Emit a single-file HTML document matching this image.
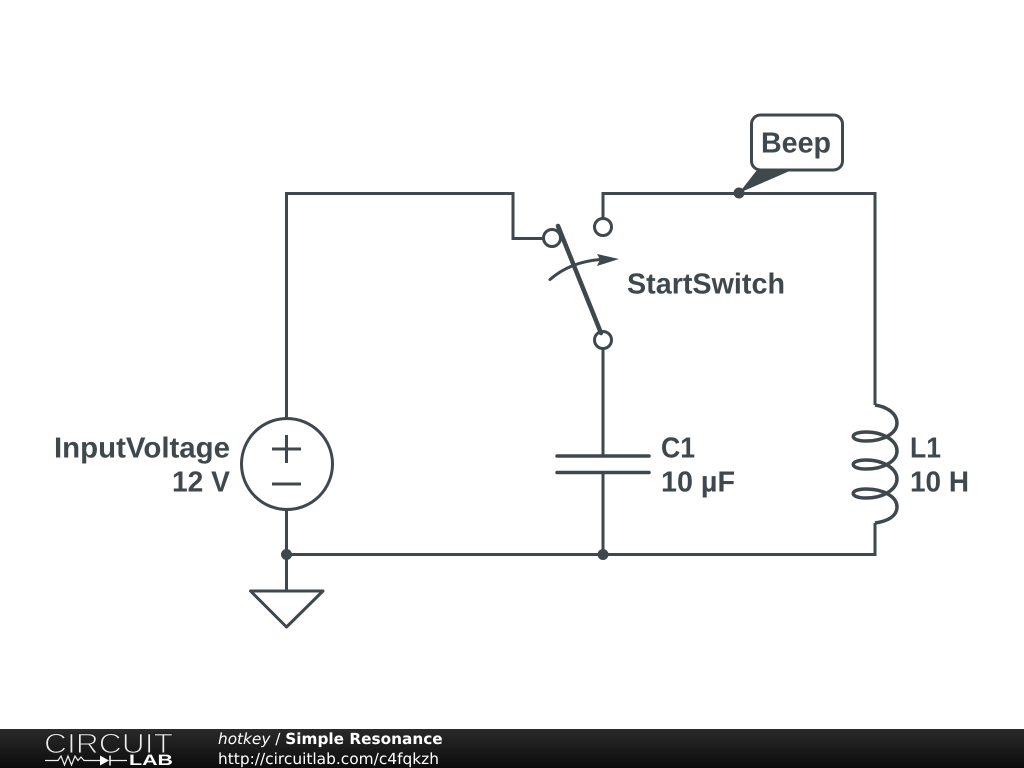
<!DOCTYPE html>
<html>
<head>
<meta charset="utf-8">
<style>
html,body{margin:0;padding:0;background:#fff;width:1024px;height:768px;overflow:hidden}
svg{display:block}
text{text-rendering:geometricPrecision}
.t{font-family:"Liberation Sans",Arial,sans-serif;font-weight:bold;font-size:29px;fill:#3f484d}
.f{font-family:"DejaVu Sans",sans-serif;font-size:15.300px;fill:#fff}
</style>
</head>
<body>
<svg width="1024" height="768" viewBox="0 0 1024 768" xmlns="http://www.w3.org/2000/svg">
<defs>
<linearGradient id="bar" x1="0" y1="0" x2="0" y2="1">
<stop offset="0" stop-color="#2a2a2a"/><stop offset="1" stop-color="#0c0c0c"/>
</linearGradient>
</defs>
<rect width="1024" height="768" fill="#fff"/>
<g fill="none" stroke="#3f484d" stroke-width="3" stroke-linejoin="miter">
<!-- wires -->
<path d="M286.500 419V193.500H513V238.500H543"/>
<path d="M603 218V193.500H875V405"/>
<path d="M603 349V455"/>
<path d="M603 472V554.500"/>
<path d="M286.500 510V590"/>
<path d="M286.500 554.500H875V523"/>
<!-- source -->
<circle cx="287" cy="464" r="45.500"/>
<path d="M272 449H301M286.500 435V463M272 484H301"/>
<!-- ground -->
<path d="M250.500 591H323L286.500 627Z" stroke-linejoin="round"/>
<!-- capacitor -->
<path d="M557 456H649M557 472.500H649" stroke-width="3.500" stroke-linecap="round"/>
<!-- inductor -->
<path d="M875 405C888 407 897 414 897 423C897 433 884 441 866 441C849 441 849 432 866 432C884 432 897 441 897 451C897 461 884 469 866 469C849 469 849 460 866 460C884 460 897 469 897 479C897 489 884 498 866 498C849 498 849 489 866 489C884 489 897 497 897 507C897 516 888 521 875 523" stroke-width="3.500"/>
<!-- switch terminals -->
<circle cx="552" cy="238" r="8.500" fill="#fff"/>
<circle cx="603" cy="227" r="8.500" fill="#fff"/>
<circle cx="603" cy="340" r="8.500" fill="#fff"/>
<!-- switch blade -->
<path d="M558 226L601 333" stroke-width="4.500" stroke-linecap="round"/>
<!-- switch arrow -->
<path d="M550 279.500Q570 262 600 259.500" stroke-linecap="round"/>
<!-- callout -->
<rect x="751.500" y="115" width="91" height="55" rx="9" ry="9" fill="#fff"/>
</g>
<path d="M619 259L597 254L600 259.500L597 266Z" fill="#3f484d"/>
<path d="M757 170H792L739 193Z" fill="#3f484d"/>
<circle cx="739" cy="193" r="5.500" fill="#3f484d"/>
<circle cx="603" cy="554.500" r="5.500" fill="#3f484d"/>
<circle cx="286.500" cy="554.500" r="5.500" fill="#3f484d"/>
<!-- labels -->
<text class="t" x="761" y="152.700" textLength="70" lengthAdjust="spacingAndGlyphs">Beep</text>
<text class="t" x="627" y="293.700" textLength="158" lengthAdjust="spacingAndGlyphs">StartSwitch</text>
<text class="t" x="54" y="457.700" textLength="176" lengthAdjust="spacingAndGlyphs">InputVoltage</text>
<text class="t" x="172" y="491.700" textLength="58" lengthAdjust="spacingAndGlyphs">12 V</text>
<text class="t" x="661" y="457.700" textLength="34" lengthAdjust="spacingAndGlyphs">C1</text>
<text class="t" x="661" y="491.700" textLength="74" lengthAdjust="spacingAndGlyphs">10 µF</text>
<text class="t" x="910" y="457.700" textLength="31" lengthAdjust="spacingAndGlyphs">L1</text>
<text class="t" x="910" y="491.700" textLength="59" lengthAdjust="spacingAndGlyphs">10 H</text>
<!-- footer -->
<rect x="0" y="729" width="1024" height="39" fill="url(#bar)"/>
<text x="44" y="753" font-family="Liberation Sans,sans-serif" font-size="28" fill="#eee" stroke="#1f1f1f" stroke-width="1.100" textLength="129" lengthAdjust="spacingAndGlyphs">CIRCUIT</text>
<path d="M45 760.500H58L61 756L64.500 765L68 756L71.500 765L75 756L78 760.500L81 757L84 760.500H100M110 760.500H127" fill="none" stroke="#eee" stroke-width="1.200"/>
<path d="M100 755.500L109 760.500L100 765.500Z" fill="#fff"/>
<path d="M110 755.500V765.500" stroke="#fff" stroke-width="1.500"/>
<text x="129" y="765" font-family="Liberation Sans,sans-serif" font-weight="bold" font-size="15" fill="#fff" textLength="44" lengthAdjust="spacingAndGlyphs">LAB</text>
<text class="f" x="218" y="744"><tspan font-style="italic">hotkey</tspan> / <tspan font-weight="bold">Simple Resonance</tspan></text>
<text class="f" x="218" y="764" textLength="221" lengthAdjust="spacingAndGlyphs">http://circuitlab.com/c4fqkzh</text>
</svg>
</body>
</html>
